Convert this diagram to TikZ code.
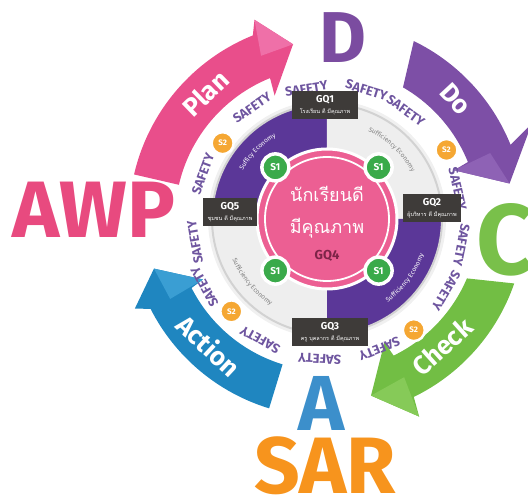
\documentclass[tikz,border=0pt]{standalone}
\usepackage{fontspec}
\setmainfont{Fira Sans}
\newfontfamily\thaifont[Script=Thai]{Loma}
\usetikzlibrary{decorations.text}

\definecolor{planpink}{HTML}{E94E8B}
\definecolor{planlight}{HTML}{EF70A8}
\definecolor{dopurple}{HTML}{7D4FA6}
\definecolor{dolight}{HTML}{8E62B5}
\definecolor{checkgreen}{HTML}{72BE44}
\definecolor{checklight}{HTML}{86CA58}
\definecolor{actionblue}{HTML}{1F86C0}
\definecolor{actionlight}{HTML}{3A9ED3}
\definecolor{awppink}{HTML}{E84A7F}
\definecolor{dpurple}{HTML}{7B4CA0}
\definecolor{cgreen}{HTML}{79C04A}
\definecolor{ablue}{HTML}{3C8FCB}
\definecolor{sarorange}{HTML}{F7941D}
\definecolor{ringpurple}{HTML}{5B3798}
\definecolor{ringlight}{HTML}{EEEEEE}
\definecolor{centerpink}{HTML}{EC5F93}
\definecolor{safetypurple}{HTML}{6E559F}
\definecolor{sonegreen}{HTML}{3AAA4A}
\definecolor{stwoorange}{HTML}{F5A733}
\definecolor{gqgrey}{HTML}{3E3B39}
\definecolor{gqmaroon}{HTML}{7D2448}

\tikzset{
  safetytext/.style={text=safetypurple, inner sep=0pt, font=\bfseries\fontsize{13}{13}\selectfont},
  sone/.style={circle, fill=sonegreen, draw=white, line width=3.5pt, minimum size=27pt, inner sep=0pt,
    text=white, font=\bfseries\fontsize{10}{10}\selectfont},
  stwo/.style={circle, fill=stwoorange, draw=white, line width=2.5pt, minimum size=22pt, inner sep=0pt,
    text=white, font=\bfseries\fontsize{8}{8}\selectfont},
  gqbox/.style={fill=gqgrey, text=white, align=center, inner sep=1.5pt, minimum height=28pt},
  bigletter/.style={inner sep=0pt, font=\bfseries\fontsize{#1}{#1}\selectfont},
  arrowtext/.style={text=white, inner sep=0pt, font=\bfseries\fontsize{26}{26}\selectfont},
  suffpath/.style 2 args={decorate, decoration={text along path, text align=center, text color=#1,
    text={|\fontsize{6.5}{6.5}\selectfont|#2}}}
}

\begin{document}
\begin{tikzpicture}[x=1pt, y=1pt]
  \useasboundingbox (-327,-283) rectangle (201,219);

  %%% PDCA arrows
  \fill[planpink] (167:152) arc[start angle=167, end angle=112, radius=152]
    -- (113:134) -- (101:178) -- (110:212) -- (112:198)
    arc[start angle=112, end angle=167, radius=198] -- cycle;
  \fill[planlight] (112:176) -- (110:212) -- (101:178) -- cycle;

  \fill[dopurple] (60:152) arc[start angle=60, end angle=22, radius=152]
    -- (21:136) -- (11:186) -- (25:226) -- (22:198)
    arc[start angle=22, end angle=64, radius=198] -- cycle;
  \fill[dolight] (22:176) -- (21:136) -- (11:186) -- cycle;

  \fill[checkgreen] (-23:152) arc[start angle=-23, end angle=-64, radius=152]
    -- (-65:136) -- (-76:182) -- (-65:218) -- (-64:198)
    arc[start angle=-64, end angle=-19, radius=198] -- cycle;
  \fill[checklight] (-64:176) -- (-65:218) -- (-76:182) -- cycle;

  \fill[actionblue] (-107:152) arc[start angle=-107, end angle=-153, radius=152]
    -- (-154:138) -- (-164:180) -- (-155:212) -- (-153:198)
    arc[start angle=-153, end angle=-107, radius=198] -- cycle;
  \fill[actionlight] (-153:176) -- (-154:138) -- (-164:180) -- cycle;

  \node[arrowtext, rotate=44] (plan) at (134:175) {Plan};
  \node[arrowtext, rotate=-47] (do) at (43:176) {Do};
  \node[arrowtext, rotate=42] (check) at (-48:172) {Check};
  \node[arrowtext, rotate=-43] (action) at (-133:173) {Action};

  %%% big letters
  \node[bigletter=80, text=awppink] (awp) at (-233,9) {AWP};
  \node[bigletter=72, text=dpurple] (dletter) at (16,181) {D};
  \node[bigletter=100, text=cgreen] (cletter) at (178,-21) {C};
  \node[bigletter=78, text=ablue] (aletter) at (-5,-184) {A};
  \node[bigletter=80, text=sarorange] (sar) at (-2,-247) {SAR};

  %%% middle ring
  \fill[gray!12] (0,0) circle (119);
  \fill[ringpurple] (0,0) -- (90:115) arc[start angle=90, end angle=180, radius=115] -- cycle;
  \fill[ringlight] (0,0) -- (0:115) arc[start angle=0, end angle=90, radius=115] -- cycle;
  \fill[ringpurple] (0,0) -- (270:115) arc[start angle=270, end angle=360, radius=115] -- cycle;
  \fill[ringlight] (0,0) -- (180:115) arc[start angle=180, end angle=270, radius=115] -- cycle;
  \draw[gray!35, line width=2pt] (0,0) circle (115);

  \path[suffpath={white}{Sufficy Economy}] (160:97) arc[start angle=160, end angle=112, radius=97];
  \path[suffpath={gray}{Sufficiency Economy}] (72:97) arc[start angle=72, end angle=22, radius=97];
  \path[suffpath={white}{Sufficiency Economy}] (-62:103) arc[start angle=-62, end angle=-12, radius=103];
  \path[suffpath={gray}{Sufficiency Economy}] (-166:103) arc[start angle=-166, end angle=-114, radius=103];

  %%% centre
  \fill[centerpink, draw=white, line width=3pt] (0,0) circle (70);
  \draw[white, line width=1.8pt] (0,0) circle (62);
  \node[text=white, inner sep=0pt, font=\thaifont\fontsize{18}{18}\selectfont] (student) at (0,25) {นักเรียนดี};
  \node[text=white, inner sep=0pt, font=\thaifont\fontsize{18}{18}\selectfont] (quality) at (0,-9) {มีคุณภาพ};
  \node[text=gqmaroon, inner sep=0pt, font=\bfseries\fontsize{13}{13}\selectfont] (gq4) at (0,-37) {GQ4};

  \foreach \a [count=\i] in {45,135,225,315}
    \node[sone] (sone\i) at (\a:73) {S1};

  %%% safety ring
  \foreach \a/\r [count=\i] in {99/132,73/135,54/134,13/134,-11/137,-31/139,-68/140,-93/140,-119/138,-151/140,-170/134,160/132,124/134}
    \node[safetytext, rotate=\a-90] (safety\i) at (\a:\r) {SAFETY};

  \node[stwo] (stwo1) at (144:129) {S2};
  \node[stwo] (stwo2) at (30:138) {S2};
  \node[stwo] (stwo3) at (-52:141) {S2};
  \node[stwo] (stwo4) at (-136:133) {S2};

  %%% GQ boxes
  \node[gqbox, minimum width=66pt] (gq1) at (-2,114)
    {{\bfseries\fontsize{10}{11}\selectfont GQ1}\\[-1pt]{\thaifont\fontsize{5.5}{6}\selectfont โรงเรียน ดี มีคุณภาพ}};
  \node[gqbox, minimum width=58pt] (gq2) at (105,11)
    {{\bfseries\fontsize{10}{11}\selectfont GQ2}\\[-1pt]{\thaifont\fontsize{5.5}{6}\selectfont ผู้บริหาร ดี มีคุณภาพ}};
  \node[gqbox, minimum width=76pt] (gq3) at (3,-113)
    {{\bfseries\fontsize{10}{11}\selectfont GQ3}\\[-1pt]{\thaifont\fontsize{5.5}{6}\selectfont ครู บุคลากร ดี มีคุณภาพ}};
  \node[gqbox, minimum width=54pt] (gq5) at (-97,7)
    {{\bfseries\fontsize{10}{11}\selectfont GQ5}\\[-1pt]{\thaifont\fontsize{5.5}{6}\selectfont ชุมชน ดี มีคุณภาพ}};
\end{tikzpicture}
\end{document}
